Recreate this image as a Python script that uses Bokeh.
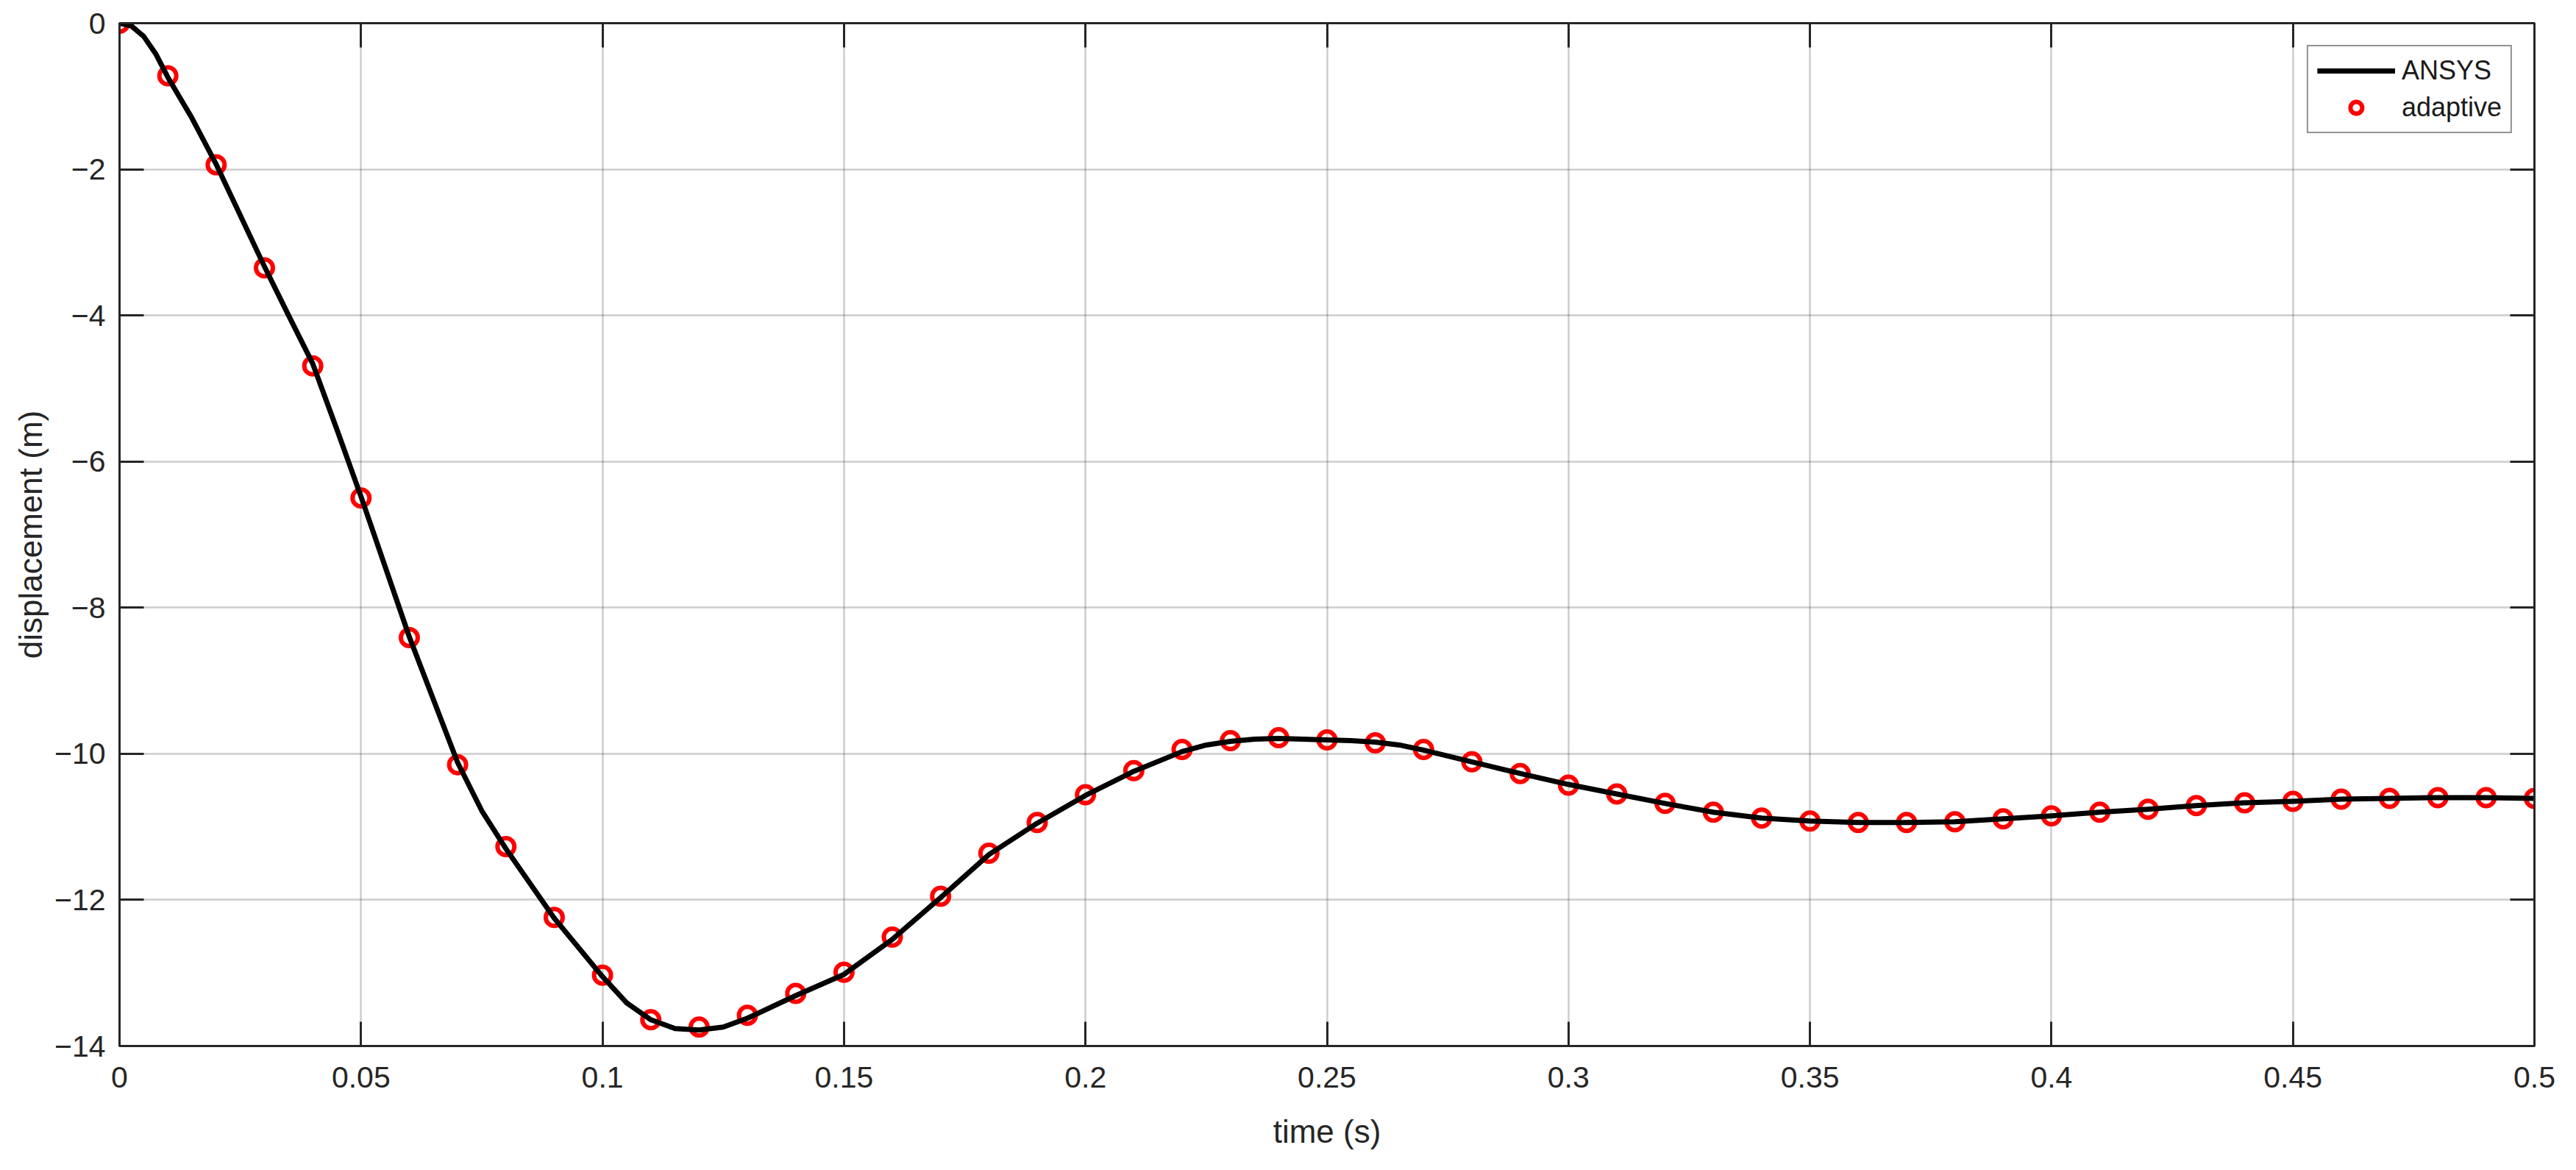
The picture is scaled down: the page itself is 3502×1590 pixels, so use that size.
from bokeh.plotting import figure
from bokeh.models import LinearAxis, FixedTicker, Legend, LegendItem, Range1d
from bokeh.embed import file_html
from bokeh.resources import INLINE

# ---- data ----
time_s = [0, 0.01, 0.02, 0.03, 0.04, 0.05, 0.06, 0.07, 0.08, 0.09,
          0.1, 0.11, 0.12, 0.13, 0.14, 0.15, 0.16, 0.17, 0.18, 0.19,
          0.2, 0.21, 0.22, 0.23, 0.24, 0.25, 0.26, 0.27, 0.28, 0.29,
          0.3, 0.31, 0.32, 0.33, 0.34, 0.35, 0.36, 0.37, 0.38, 0.39,
          0.4, 0.41, 0.42, 0.43, 0.44, 0.45, 0.46, 0.47, 0.48, 0.49, 0.5]
adaptive = [0, -0.72, -1.94, -3.35, -4.69, -6.50, -8.41, -10.15, -11.27, -12.24,
            -13.03, -13.64, -13.74, -13.58, -13.28, -12.99, -12.51, -11.95, -11.36, -10.94,
            -10.56, -10.23, -9.94, -9.82, -9.78, -9.81, -9.85, -9.94, -10.11, -10.27,
            -10.43, -10.55, -10.68, -10.80, -10.88, -10.92, -10.94, -10.94, -10.93, -10.89,
            -10.85, -10.80, -10.76, -10.71, -10.67, -10.65, -10.62, -10.61, -10.60, -10.60, -10.61]

ansys_t = [0, 0.0025, 0.005, 0.0075, 0.01, 0.015, 0.02, 0.03, 0.035, 0.04, 0.045, 0.05, 0.06, 0.07,
           0.075, 0.08, 0.09, 0.1, 0.105, 0.11, 0.115, 0.12, 0.125, 0.13, 0.14, 0.15, 0.16, 0.17,
           0.18, 0.19, 0.2, 0.21, 0.22, 0.225, 0.23, 0.235, 0.24, 0.245, 0.25, 0.255, 0.26, 0.265,
           0.27, 0.28, 0.29, 0.3, 0.31, 0.32, 0.33, 0.34, 0.35, 0.36, 0.37, 0.38, 0.39,
           0.4, 0.41, 0.42, 0.43, 0.44, 0.45, 0.46, 0.47, 0.48, 0.49, 0.5]
ansys = [0, -0.04, -0.18, -0.42, -0.74, -1.30, -1.93, -3.33, -4.00, -4.66, -5.56, -6.48, -8.40, -10.12,
         -10.78, -11.30, -12.25, -13.05, -13.41, -13.64, -13.76, -13.78, -13.74, -13.62, -13.31, -13.02,
         -12.54, -11.97, -11.38, -10.95, -10.57, -10.24, -9.97, -9.88, -9.83, -9.80, -9.79, -9.80,
         -9.81, -9.82, -9.84, -9.88, -9.95, -10.11, -10.27, -10.42, -10.55, -10.68, -10.80, -10.88,
         -10.92, -10.94, -10.94, -10.93, -10.89, -10.85, -10.80, -10.76, -10.71, -10.67, -10.65,
         -10.62, -10.61, -10.60, -10.60, -10.61]

x_ticks = [0, 0.05, 0.1, 0.15, 0.2, 0.25, 0.3, 0.35, 0.4, 0.45, 0.5]
x_tick_labels = ["0", "0.05", "0.1", "0.15", "0.2", "0.25", "0.3", "0.35", "0.4", "0.45", "0.5"]
y_ticks = [-14, -12, -10, -8, -6, -4, -2, 0]
y_tick_labels = ["\u221214", "\u221212", "\u221210", "\u22128", "\u22126", "\u22124", "\u22122", "0"]

FONT = "Liberation Sans"
AX = "#262626"

p = figure(width=3486, height=1574, output_backend="svg", toolbar_location=None,
           x_range=Range1d(0, 0.5), y_range=Range1d(-14, 0),
           min_border_left=162, min_border_right=41, min_border_top=31, min_border_bottom=153)
p.background_fill_color = "white"
p.border_fill_color = "white"
p.outline_line_color = AX
p.outline_line_width = 3

# grid
p.xgrid.ticker = FixedTicker(ticks=x_ticks)
p.ygrid.ticker = FixedTicker(ticks=y_ticks)
for g in (p.xgrid, p.ygrid):
    g.grid_line_color = AX
    g.grid_line_alpha = 0.23
    g.grid_line_width = 2.5

def style_axis(ax, ticks, labels, show_labels=True):
    ax.ticker = FixedTicker(ticks=ticks)
    ax.major_tick_in = 33
    ax.major_tick_out = 0
    ax.minor_tick_line_color = None
    ax.major_tick_line_color = AX
    ax.major_tick_line_width = 3
    ax.axis_line_color = AX
    ax.axis_line_width = 3
    ax.major_label_text_font = FONT
    if show_labels:
        ax.major_label_overrides = {t: l for t, l in zip(ticks, labels)}
        ax.major_label_text_color = AX
        ax.major_label_text_font_size = "41px"
    else:
        ax.major_label_text_color = None
        ax.major_label_standoff = 0

xb = p.xaxis[0]
yl = p.yaxis[0]
style_axis(xb, x_ticks, x_tick_labels)
style_axis(yl, y_ticks, y_tick_labels)
xb.major_label_standoff = 28
yl.major_label_standoff = 19
xb.axis_label = "time (s)"
yl.axis_label = "displacement (m)"
for ax in (xb, yl):
    ax.axis_label_text_font = FONT
    ax.axis_label_text_font_size = "44px"
    ax.axis_label_text_font_style = "normal"
    ax.axis_label_text_color = AX
xb.axis_label_standoff = 32
yl.axis_label_standoff = 5

xt = LinearAxis()
yr = LinearAxis()
style_axis(xt, x_ticks, x_tick_labels, show_labels=False)
style_axis(yr, y_ticks, y_tick_labels, show_labels=False)
p.add_layout(xt, "above")
p.add_layout(yr, "right")

sc = p.scatter(time_s, adaptive, marker="circle", size=23, fill_color=None,
               line_color="#ff0000", line_width=6)
ln = p.line(ansys_t, ansys, line_color="black", line_width=7, line_join="round")

legend = Legend(items=[LegendItem(label="ANSYS", renderers=[ln]),
                       LegendItem(label="adaptive", renderers=[sc])],
                location="top_right", margin=30)
legend.label_text_font = FONT
legend.label_text_font_size = "36px"
legend.label_text_color = "#1a1a1a"
legend.glyph_width = 106
legend.glyph_height = 40
legend.label_height = 40
legend.spacing = 8
legend.padding = 12
legend.label_standoff = 9
legend.border_line_color = AX
legend.border_line_width = 2.5
legend.background_fill_color = "white"
legend.background_fill_alpha = 1.0
p.add_layout(legend)

open("out.html", "w").write(file_html(p, INLINE))
